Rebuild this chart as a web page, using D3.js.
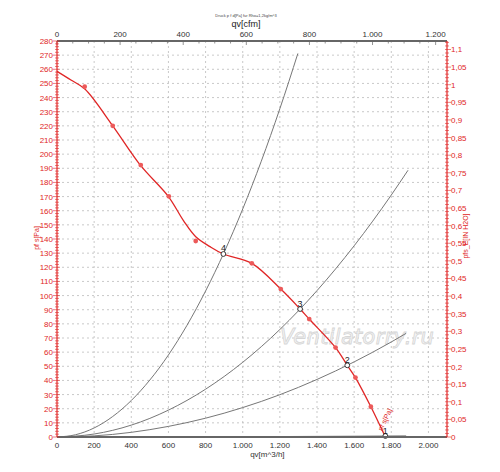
<!DOCTYPE html>
<html>
<head>
<meta charset="utf-8">
<script src="https://cdn.jsdelivr.net/npm/d3@7"></script>
<style>
  body { margin: 0; background: #fff; }
  svg { font-family: "Liberation Sans", Arial, sans-serif; }
</style>
</head>
<body>
<div id="chart"></div>
<script>
// fan curve pf s [Pa] vs qv [m^3/h]
var curveQ = [0, 75, 150, 300, 450, 600, 681, 747, 824, 896, 1049, 1205, 1309, 1358, 1500, 1563, 1607, 1690, 1768];
var curveP = [258.5, 252.4, 246, 220, 192, 170, 153, 141.6, 134.6, 129.4, 122.8, 104.6, 90.5, 83.4, 63.2, 50.7, 42, 21.4, 0];

// measured points (red dots)
var dotQ = [149, 300, 451, 602, 747, 1049, 1205, 1358, 1500, 1607, 1690];
var dotP = [247.7, 220, 192.3, 170.2, 138.6, 122.8, 104.6, 83.4, 63.2, 42, 21.4];

// system curves (grey)
var sys4Q = [0, 100, 200, 300, 400, 500, 600, 700, 800, 900, 1000, 1100, 1200, 1297];
var sys4P = [0, 1.6, 6.4, 14.5, 25.8, 40.3, 58.0, 79.0, 103.2, 130.6, 161.2, 195.0, 232.1, 271.2];
var sys3Q = [0, 200, 400, 600, 800, 1000, 1200, 1400, 1600, 1800, 1890];
var sys3P = [0, 2.1, 8.4, 19.0, 33.8, 52.8, 76.0, 103.5, 135.2, 171.1, 188.6];
var sys2Q = [0, 200, 400, 600, 800, 1000, 1200, 1400, 1600, 1800, 1880];
var sys2P = [0, 0.8, 3.3, 7.5, 13.3, 20.8, 29.9, 40.7, 53.1, 67.2, 73.3];
var sys1Q = [0, 400, 800, 1200, 1600, 1880];
var sys1P = [0, 0.04, 0.14, 0.32, 0.57, 0.79];

// operating points
var opLabels = ["1", "2", "3", "4"];
var opQ = [1768, 1563, 1309, 896];
var opP = [0.7, 50.7, 90.5, 129.4];

// ticks
var bottomTicks = [0, 200, 400, 600, 800, 1000, 1200, 1400, 1600, 1800, 2000];
var topTicks = [0, 200, 400, 600, 800, 1000, 1200];
var leftTicks = d3.range(0, 281, 10);
var rightTicks = d3.range(0, 23).map(i => i * 0.05);

var W = 500, H = 472;
var margin = { left: 57, top: 41, right: 53, bottom: 35 };
var w = W - margin.left - margin.right;
var h = H - margin.top - margin.bottom;

var red = "#e02626";
var axisGrey = "#666";

var svg = d3.select("#chart").append("svg").attr("width", W).attr("height", H);
var g = svg.append("g").attr("transform", `translate(${margin.left},${margin.top})`);

var x = d3.scaleLinear().domain([0, 2100]).range([0, w]);
var xCfm = d3.scaleLinear().domain([0, 2100 * 0.588578]).range([0, w]);
var y = d3.scaleLinear().domain([0, 280]).range([h, 0]);
var yIn = d3.scaleLinear().domain([0, 280 / 249.089]).range([h, 0]);

var nlFormat = v => d3.format(",")(v).replace(/,/g, ".");
var commaDec = v => String(Math.round(v * 100) / 100).replace(".", ",");

// grid
g.append("g").selectAll("line").data(bottomTicks.filter(d => d > 0)).join("line")
  .attr("x1", d => x(d)).attr("x2", d => x(d)).attr("y1", 0).attr("y2", h)
  .attr("stroke", "#bbb").attr("stroke-dasharray", "2,3").attr("stroke-width", 0.8);
g.append("g").selectAll("line").data(leftTicks.filter(d => d > 0)).join("line")
  .attr("x1", 0).attr("x2", w).attr("y1", d => y(d)).attr("y2", d => y(d))
  .attr("stroke", "#bbb").attr("stroke-dasharray", "2,3").attr("stroke-width", 0.8);

// watermark
g.append("text")
  .attr("x", x(1615)).attr("y", y(66))
  .attr("text-anchor", "middle")
  .attr("font-family", "DejaVu Sans, sans-serif")
  .attr("font-style", "italic")
  .attr("font-size", 21)
  .attr("textLength", 154)
  .attr("fill", "#f4f4f4").attr("stroke", "#d6d6d6").attr("stroke-width", 0.8)
  .text("Ventilatorry.ru");

// system curves
var line = d3.line().x(d => x(d[0])).y(d => y(d[1])).curve(d3.curveMonotoneX);
[[sys4Q, sys4P], [sys3Q, sys3P], [sys2Q, sys2P], [sys1Q, sys1P]].forEach(s => {
  g.append("path").datum(d3.zip(s[0], s[1]))
    .attr("d", line).attr("fill", "none")
    .attr("stroke", "#777").attr("stroke-width", 1);
});

// fan curve
var smooth = d3.line().x(d => x(d[0])).y(d => y(d[1])).curve(d3.curveCatmullRom.alpha(0.5));
g.append("path").datum(d3.zip(curveQ, curveP))
  .attr("d", smooth).attr("fill", "none")
  .attr("stroke", red).attr("stroke-width", 1.3);

g.append("g").selectAll("circle").data(d3.zip(dotQ, dotP)).join("circle")
  .attr("cx", d => x(d[0])).attr("cy", d => y(d[1])).attr("r", 2.4)
  .attr("fill", "#ec5a5a");

// curve label
g.append("text")
  .attr("transform", `translate(${x(1750)},${y(4)}) rotate(-64)`)
  .attr("font-size", 7).attr("fill", red)
  .text("pf s[Pa]");

// operating points
var ops = opLabels.map((l, i) => ({ l: l, q: opQ[i], p: opP[i] }));
g.append("g").selectAll("circle").data(ops).join("circle")
  .attr("cx", d => x(d.q)).attr("cy", d => y(d.p)).attr("r", 2.4)
  .attr("fill", "#fff").attr("stroke", "#222").attr("stroke-width", 0.9);
g.append("g").selectAll("text").data(ops).join("text")
  .attr("x", d => x(d.q)).attr("y", d => y(d.p) - 2.5)
  .attr("text-anchor", "middle").attr("font-size", 9).attr("fill", "#222")
  .text(d => d.l);

// bottom axis
g.append("line").attr("x1", 0).attr("x2", w).attr("y1", h).attr("y2", h)
  .attr("stroke", axisGrey).attr("stroke-width", 1.8);
g.append("g").selectAll("text").data(bottomTicks).join("text")
  .attr("x", d => x(d)).attr("y", h + 11)
  .attr("text-anchor", "middle").attr("font-size", 8).attr("fill", "#333")
  .text(nlFormat);
svg.append("text").attr("x", margin.left + x(1040)).attr("y", H - 15)
  .attr("font-size", 8).attr("fill", "#333").text("qv[m^3/h]");

// top axis
g.append("line").attr("x1", 0).attr("x2", w).attr("y1", 0).attr("y2", 0)
  .attr("stroke", axisGrey).attr("stroke-width", 1.8);
g.append("g").selectAll("line").data(d3.range(0, 1240, 50)).join("line")
  .attr("x1", d => xCfm(d)).attr("x2", d => xCfm(d)).attr("y1", 0).attr("y2", d => d % 200 === 0 ? 4 : 2.5)
  .attr("stroke", axisGrey).attr("stroke-width", 0.7);
g.append("g").selectAll("text").data(topTicks).join("text")
  .attr("x", d => xCfm(d)).attr("y", -4)
  .attr("text-anchor", "middle").attr("font-size", 8).attr("fill", "#333")
  .text(nlFormat);
svg.append("text").attr("x", 246).attr("y", 27)
  .attr("text-anchor", "middle").attr("font-size", 9).attr("fill", "#222").text("qv[cfm]");
svg.append("text").attr("x", 246).attr("y", 17)
  .attr("text-anchor", "middle").attr("font-size", 4).attr("fill", "#444")
  .text("Druck p f d[Pa] fur Rho=1,2kg/m^3");

// left axis
var left = g.append("g");
left.append("line").attr("x1", 0).attr("x2", 0).attr("y1", 0).attr("y2", h)
  .attr("stroke", red).attr("stroke-width", 1.2);
left.selectAll("line.minor").data(d3.range(0, 281, 2)).join("line").attr("class", "minor")
  .attr("x1", d => d % 10 === 0 ? -4 : -2).attr("x2", d => d % 10 === 0 ? 3 : 2)
  .attr("y1", d => y(d)).attr("y2", d => y(d))
  .attr("stroke", red).attr("stroke-width", 0.6);
left.selectAll("text").data(leftTicks).join("text")
  .attr("x", -4).attr("y", d => y(d) + 3)
  .attr("text-anchor", "end").attr("font-size", 8).attr("fill", red)
  .text(d => d);
svg.append("text").attr("transform", `translate(39,238) rotate(-90)`)
  .attr("text-anchor", "middle").attr("font-size", 7).attr("fill", red).text("pf s[Pa]");

// right axis
var right = g.append("g").attr("transform", `translate(${w},0)`);
right.append("line").attr("x1", 0).attr("x2", 0).attr("y1", 0).attr("y2", h)
  .attr("stroke", red).attr("stroke-width", 1.2);
right.selectAll("line.minor").data(d3.range(0, 113).map(i => i * 0.01)).join("line").attr("class", "minor")
  .attr("x1", -2).attr("x2", (d, i) => i % 5 === 0 ? 4 : 2)
  .attr("y1", d => yIn(d)).attr("y2", d => yIn(d))
  .attr("stroke", red).attr("stroke-width", 0.6);
right.selectAll("text").data(rightTicks).join("text")
  .attr("x", 4).attr("y", d => yIn(d) + 3)
  .attr("font-size", 8).attr("fill", red)
  .text(commaDec);
svg.append("text").attr("transform", `translate(468,236) rotate(-90)`)
  .attr("text-anchor", "middle").attr("font-size", 7).attr("fill", red).text("pfs_E[IN H2O]");
</script>
</body>
</html>
